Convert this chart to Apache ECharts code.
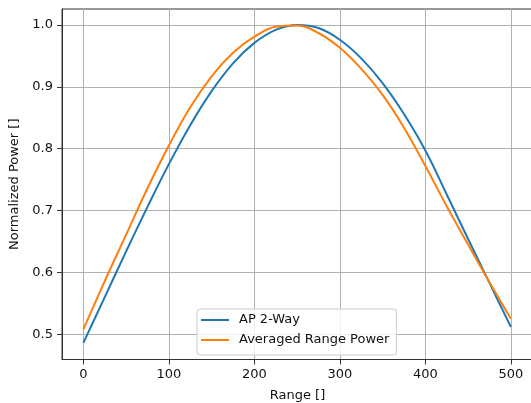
<!DOCTYPE html>
<html>
<head>
<meta charset="utf-8">
<script src="https://cdn.jsdelivr.net/npm/echarts@6/dist/echarts.min.js"></script>
<style>html,body{margin:0;padding:0;background:#fff}#c{width:531px;height:403px}</style>
</head>
<body>
<div id="c"></div>
<script>
var rangeValues = [0, 25, 50, 75, 100, 125, 150, 175, 200, 225, 250, 275, 300, 325, 350, 375, 400, 425, 450, 475, 500];
var ap2Way = [0.486, 0.560, 0.634, 0.706, 0.775, 0.838, 0.893, 0.938, 0.971, 0.992, 1.000, 0.995, 0.976, 0.946, 0.906, 0.856, 0.797, 0.726, 0.654, 0.583, 0.512];
var avgRangePower = [0.508, 0.586, 0.661, 0.736, 0.805, 0.867, 0.917, 0.955, 0.981, 0.997, 0.999, 0.987, 0.963, 0.929, 0.887, 0.834, 0.772, 0.707, 0.645, 0.584, 0.525];
var xTicks = [0, 100, 200, 300, 400, 500];
var yTicks = [0.5, 0.6, 0.7, 0.8, 0.9, 1.0];

function pairs(xs, ys) { return xs.map(function (x, i) { return [x, ys[i]]; }); }

var font = 'DejaVu Sans';
var txt = '#111';
var chart = echarts.init(document.getElementById('c'), null, {renderer: 'canvas'});
chart.setOption({
  animation: false,
  backgroundColor: '#fff',
  grid: {left: 62, top: 9, width: 471, height: 350.5, outerBoundsMode: 'none', containLabel: false,
    show: true, borderColor: '#333', borderWidth: 1, backgroundColor: 'transparent'},
  legend: {
    left: 197, top: 309, orient: 'vertical',
    padding: [4, 7, 8, 4],
    icon: 'rect',
    itemWidth: 28, itemHeight: 2, itemGap: 6,
    backgroundColor: 'rgba(255,255,255,0.8)',
    borderColor: '#cccccc', borderWidth: 1, borderRadius: 3,
    textStyle: {fontFamily: font, fontSize: 13, lineHeight: 14, color: txt, padding: [0, 0, 0, 5]},
    data: ['AP 2-Way', 'Averaged Range Power']
  },
  xAxis: {
    type: 'value', min: -25, max: 525.9,
    name: 'Range []', nameLocation: 'middle', nameGap: 30,
    nameTextStyle: {fontFamily: font, fontSize: 13, color: txt},
    axisLine: {show: true, onZero: false, lineStyle: {color: '#333', width: 1}},
    axisTick: {show: true, length: 5, customValues: xTicks, lineStyle: {color: '#333'}},
    axisLabel: {customValues: xTicks, margin: 9, fontFamily: font, fontSize: 13, color: txt},
    splitLine: {show: true, customValues: xTicks, lineStyle: {color: '#b0b0b0', width: 1}}
  },
  yAxis: {
    type: 'value', min: 0.4592, max: 1.0258,
    name: 'Normalized Power []', nameLocation: 'middle', nameGap: 37,
    nameTextStyle: {fontFamily: font, fontSize: 13, color: txt},
    axisLine: {show: true, onZero: false, lineStyle: {color: '#333', width: 1}},
    axisTick: {show: true, length: 5, customValues: yTicks, lineStyle: {color: '#333'}},
    axisLabel: {customValues: yTicks, margin: 9, fontFamily: font, fontSize: 13, color: txt,
      formatter: function (v) { return v.toFixed(1); }},
    splitLine: {show: true, customValues: yTicks, lineStyle: {color: '#b0b0b0', width: 1}}
  },
  series: [
    {name: 'AP 2-Way', type: 'line', data: pairs(rangeValues, ap2Way), smooth: 0.4,
      symbol: 'none', lineStyle: {color: '#1f77b4', width: 2}, itemStyle: {color: '#1f77b4'}},
    {name: 'Averaged Range Power', type: 'line', data: pairs(rangeValues, avgRangePower), smooth: 0.4,
      symbol: 'none', lineStyle: {color: '#ff7f0e', width: 2}, itemStyle: {color: '#ff7f0e'}}
  ]
});
</script>
</body>
</html>
